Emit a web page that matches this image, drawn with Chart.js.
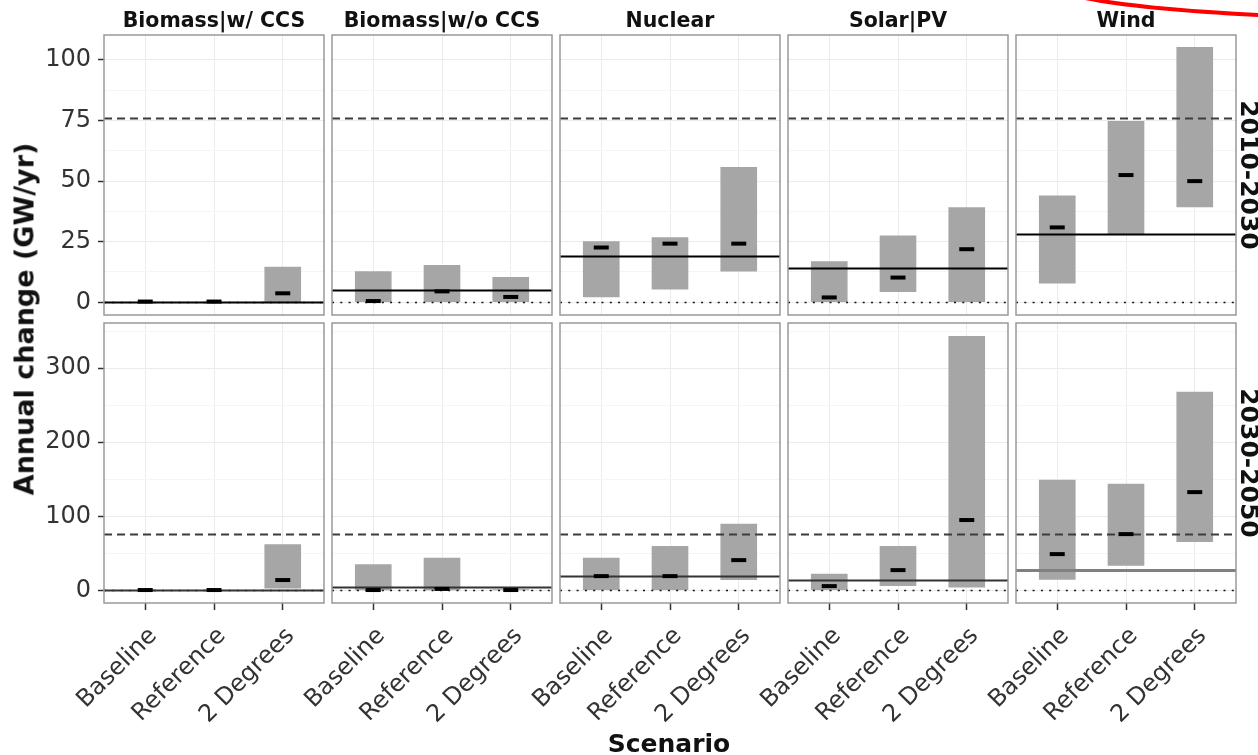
<!DOCTYPE html>
<html>
<head>
<meta charset="utf-8">
<script src="https://cdn.jsdelivr.net/npm/chart.js@4.4.1/dist/chart.umd.min.js"></script>
<style>
  body { margin: 0; background: #fff; width: 1258px; height: 755px; overflow: hidden; position: relative; font-family: 'DejaVu Sans', sans-serif; }
  canvas { position: absolute; }
  .lbl { position: absolute; white-space: nowrap; line-height: 1; font-weight: bold; color: #111; }
</style>
</head>
<body>
<script>
// facet columns / rows / categories
const techs = ['Biomass|w/ CCS', 'Biomass|w/o CCS', 'Nuclear', 'Solar|PV', 'Wind'];
const periods = ['2010-2030', '2030-2050'];
const scenarios = ['Baseline', 'Reference', '2 Degrees'];

// ranges (grey bars) and medians, one row per tech, one value per scenario
const low2030 = [[0, 0, 0], [0, 0, 0], [2.2, 5.4, 12.8], [0, 4.4, 0.3], [7.9, 28.1, 39.4]];
const high2030 = [[0, 0, 14.5], [12.7, 15.2, 10.3], [25, 26.7, 55.7], [16.8, 27.4, 39.1], [43.9, 74.7, 105.2]];
const median2030 = [[0.3, 0.3, 3.7], [0.5, 4.5, 2.2], [22.6, 24.2, 24.2], [2, 10.2, 21.9], [30.9, 52.5, 50]];

const low2050 = [[0, 0, 3], [0, 0, 0], [1, 1, 14.4], [1, 6.3, 4.5], [14.8, 33.7, 65.7]];
const high2050 = [[0, 0, 62], [35, 43.6, 1], [43.6, 59.4, 89.5], [22, 59.4, 343], [148.8, 143.5, 267.6]];
const median2050 = [[0.5, 0.5, 14], [0.5, 2, 0.5], [19.3, 19.3, 40.9], [5.8, 27.4, 95], [49, 76, 132.7]];

// historical rate (solid line) per tech, and the dashed benchmark
const historic = [0, 5, 19, 14, 28];
const benchmark = 76;

const yTicks2030 = [0, 25, 50, 75, 100];
const yTicks2050 = [0, 100, 200, 300];

// layout
const PANEL_W = 220, PANEL_H = 280, PITCH = 228, LEFT0 = 104;
const ROW_TOP = [35, 323];
const MARGIN_L = 104, PAD = 4, XAXIS_H = 150;
const FONT = "'DejaVu Sans', sans-serif";
const yLimits = [[-5.25, 110.3], [-17, 361]];
const yStep = [12.5, 50];

// reference lines + panel border
const panelDecor = {
  id: 'panelDecor',
  afterDatasetDraw(chart, args, opts) {
    if (args.index !== 0) return;
    const { ctx, chartArea: a, scales: { y } } = chart;
    const hline = (v, dash, color, w) => {
      const py = Math.round(y.getPixelForValue(v)) + 0.5;
      ctx.beginPath();
      ctx.setLineDash(dash);
      ctx.strokeStyle = color;
      ctx.lineWidth = w;
      ctx.moveTo(a.left, py);
      ctx.lineTo(a.right, py);
      ctx.stroke();
    };
    ctx.save();
    ctx.beginPath();
    ctx.rect(a.left, a.top, a.width, a.height);
    ctx.clip();
    hline(0, [2, 6.3], '#111', 1.6);
    hline(benchmark, [8, 5], '#3c3c3c', 2);
    hline(opts.hist, [], opts.histColor, opts.histWidth);
    ctx.restore();
  },
  afterDraw(chart) {
    const { ctx, chartArea: a } = chart;
    ctx.save();
    ctx.strokeStyle = '#999';
    ctx.lineWidth = 1.5;
    ctx.strokeRect(a.left, a.top, a.width, a.height);
    ctx.restore();
  }
};

periods.forEach((period, r) => {
  const lows = r === 0 ? low2030 : low2050;
  const highs = r === 0 ? high2030 : high2050;
  const meds = r === 0 ? median2030 : median2050;
  const yTicks = r === 0 ? yTicks2030 : yTicks2050;

  techs.forEach((tech, c) => {
    const canvas = document.createElement('canvas');
    canvas.width = MARGIN_L + PANEL_W + PAD;
    canvas.height = PAD + PANEL_H + (r === 1 ? XAXIS_H : PAD);
    canvas.style.left = (LEFT0 + c * PITCH - MARGIN_L) + 'px';
    canvas.style.top = (ROW_TOP[r] - PAD) + 'px';
    document.body.appendChild(canvas);

    const fadedWind = r === 1 && tech === 'Wind';

    new Chart(canvas, {
      type: 'bar',
      data: {
        datasets: [
          {
            type: 'bar',
            data: scenarios.map((s, i) => ({ x: i, y: [lows[c][i], highs[c][i]] })),
            backgroundColor: '#a6a6a6',
            barThickness: 36,
            order: 2
          },
          {
            type: 'line',
            data: scenarios.map((s, i) => ({ x: i, y: meds[c][i] })),
            showLine: false,
            pointStyle: 'line',
            pointRadius: 7.5,
            pointBorderWidth: 4,
            pointBorderColor: '#000',
            pointBackgroundColor: '#000',
            order: 1
          }
        ]
      },
      options: {
        responsive: false,
        animation: false,
        events: [],
        layout: { autoPadding: false, padding: { top: PAD, right: PAD, left: 0, bottom: 0 } },
        plugins: {
          legend: { display: false },
          tooltip: { enabled: false },
          panelDecor: {
            hist: historic[c],
            histColor: fadedWind ? '#808080' : (r === 1 ? '#333' : '#000'),
            histWidth: fadedWind ? 3 : 2
          }
        },
        scales: {
          x: {
            type: 'linear',
            min: -0.6,
            max: 2.6,
            offset: false,
            border: { display: false },
            grid: { offset: false, color: '#ebebeb', drawTicks: r === 1, tickLength: 7, tickColor: '#333', tickWidth: 1.5 },
            ticks: {
              display: r === 1,
              autoSkip: false,
              maxRotation: 45,
              minRotation: 45,
              padding: 12,
              labelOffset: 8,
              color: '#333',
              font: { family: FONT, size: 24 },
              callback: v => scenarios[v]
            },
            afterBuildTicks: s => { s.ticks = scenarios.map((_, i) => ({ value: i })); },
            afterFit: s => { s.height = r === 1 ? XAXIS_H : PAD; s.paddingLeft = 0; s.paddingRight = 0; }
          },
          y: {
            type: 'linear',
            min: yLimits[r][0],
            max: yLimits[r][1],
            border: { display: false },
            grid: {
              color: ctx => yTicks.includes(ctx.tick.value) ? '#ebebeb' : '#f5f5f5',
              drawTicks: c === 0,
              tickLength: 6,
              tickWidth: 1.5,
              tickColor: ctx => yTicks.includes(ctx.tick.value) ? '#333' : 'rgba(0,0,0,0)'
            },
            ticks: {
              display: c === 0,
              stepSize: yStep[r],
              includeBounds: false,
              autoSkip: false,
              padding: 7,
              color: '#333',
              font: { family: FONT, size: 24 },
              callback: v => yTicks.includes(v) ? String(v) : ''
            },
            afterFit: s => { s.width = MARGIN_L; s.paddingTop = 0; s.paddingBottom = 0; }
          }
        }
      },
      plugins: [panelDecor]
    });
  });
});

// strip titles and axis titles
function addLabel(text, css) {
  const d = document.createElement('div');
  d.className = 'lbl';
  d.textContent = text;
  Object.assign(d.style, css);
  document.body.appendChild(d);
}
techs.forEach((t, c) => addLabel(t, {
  left: (LEFT0 + c * PITCH + PANEL_W / 2) + 'px', top: '10px', fontSize: '20.5px', transform: 'translateX(-50%)'
}));
periods.forEach((p, r) => addLabel(p, {
  left: '1249px', top: (ROW_TOP[r] + PANEL_H / 2) + 'px', fontSize: '25px', transform: 'translate(-50%,-50%) rotate(90deg)'
}));
addLabel('Annual change (GW/yr)', { left: '24px', top: '319px', fontSize: '27px', transform: 'translate(-50%,-50%) rotate(-90deg)' });
addLabel('Scenario', { left: '669px', top: '731px', fontSize: '25px', transform: 'translateX(-50%)' });
</script>
<svg width="1258" height="755" style="position:absolute;left:0;top:0;pointer-events:none">
  <path d="M1085,-2 Q1140,9 1258,15" fill="none" stroke="#ff0000" stroke-width="4"/>
</svg>
</body>
</html>
